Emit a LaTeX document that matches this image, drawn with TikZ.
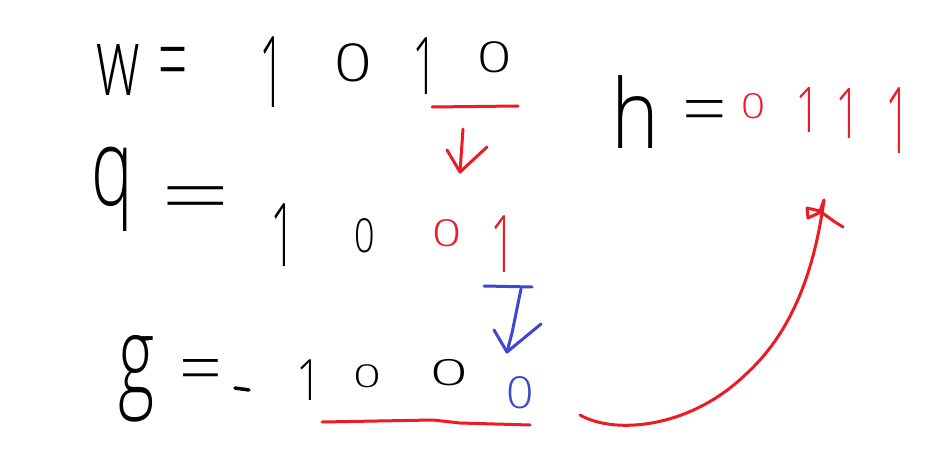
\documentclass[tikz,border=0pt]{standalone}
\usepackage{fontspec}
\setmainfont{Open Sans Light}
\usepackage{graphicx}
\definecolor{pred}{RGB}{237,28,36}
\definecolor{pblue}{RGB}{63,72,204}
\newcommand\hw[3]{\scalebox{#1}[#2]{#3}}
\begin{document}
\begin{tikzpicture}[x=1pt,y=-1pt,
  gl/.style={inner sep=0pt, font=\fontsize{30}{36}\selectfont},
  rgl/.style={gl, text=pred},
  bgl/.style={gl, text=pblue},
  stroke/.style={line width=3.5pt, line cap=round, line join=round},
  rstroke/.style={stroke, draw=pred, line width=3pt},
  bstroke/.style={stroke, draw=pblue, line width=3pt}]
\fill[white] (0,0) rectangle (952,457);
\useasboundingbox (0,0) rectangle (952,457);
% row 1
\node[gl] (w) at (118,70) {\hw{2.0}{3.2}{w}};
\node[gl] (weq) at (173,71) {\hw{1.7}{3.4}{=}};
\node[gl] (w1) at (272,72) {\hw{1.5}{3.3}{1}};
\node[gl] (w2) at (353,63) {\hw{2.2}{1.74}{0}};
\node[gl] (w3) at (425,66) {\hw{1.5}{2.65}{1}};
\node[gl] (w4) at (495,57) {\hw{2.0}{1.42}{0}};
% row 2
\node[gl] (q) at (112,189) {\hw{2.33}{3.6}{q}};
\node[gl] (qeq) at (196,205) {\hw{4.0}{2.6}{=}};
\node[gl] (q1) at (283,235) {\hw{1.5}{2.93}{1}};
\node[gl] (q2) at (365,236) {\hw{1.2}{1.56}{0}};
\node[rgl] (q3) at (447,233) {\hw{1.7}{1.24}{0}};
\node[rgl] (q4) at (503,244) {\hw{1.5}{2.65}{1}};
% row 3
\node[gl] (g) at (137,379) {\hw{2.3}{3.7}{g}};
\node[gl] (geq) at (201,376) {\hw{2.5}{2.4}{=}};
\node[gl] (g1) at (309,380) {\hw{1.5}{1.9}{1}};
\node[gl] (g2) at (367,376) {\hw{1.6}{1.05}{0}};
\node[gl] (g3) at (449,373) {\hw{2.2}{1.2}{0}};
\node[bgl] (g4) at (520,393) {\hw{1.6}{1.47}{0}};
% right
\node[gl] (h) at (635,112) {\hw{2.7}{3.2}{h}};
\node[gl] (heq) at (705,118) {\hw{2.6}{2.4}{=}};
\node[rgl] (h1) at (753,106) {\hw{1.4}{1.15}{0}};
\node[rgl] (h2) at (808,110) {\hw{1.5}{2.1}{1}};
\node[rgl] (h3) at (848,114) {\hw{1.5}{2.33}{1}};
\node[rgl] (h4) at (898,121) {\hw{1.5}{3.07}{1}};
% stray dash after g =
\coordinate (d1) at (235,388);
\coordinate (d2) at (249,390);
\draw[stroke] (d1) -- (d2);
% red underline + arrow (row 1 -> row 2)
\coordinate (ru1) at (432,107);
\coordinate (ru2) at (518,106);
\draw[rstroke] (ru1) -- (ru2);
\coordinate (ra0) at (463,129);
\coordinate (ra1) at (460,172);
\coordinate (raL) at (447,150);
\coordinate (raR) at (487,147);
\draw[rstroke] (ra0) -- (ra1);
\draw[rstroke] (raL) -- (ra1) -- (raR);
% blue underline + arrow (row 2 -> row 3)
\coordinate (bu1) at (484,286);
\coordinate (bu2) at (532,287);
\draw[bstroke] (bu1) -- (bu2);
\coordinate (ba0) at (521,289);
\coordinate (ba1) at (507,352);
\coordinate (baL) at (494,330);
\coordinate (baR) at (541,324);
\draw[bstroke] (ba0) -- (512,333) -- (ba1);
\draw[bstroke] (baL) -- (ba1) -- (baR);
% red underline row 3
\coordinate (gu1) at (322,422);
\coordinate (gu2) at (530,425);
\draw[rstroke] (gu1) -- (433,420) -- (460,423) -- (gu2);
% curved arrow to h
\coordinate (cs) at (580,415);
\coordinate (ce) at (824,200);
\draw[rstroke] (cs) .. controls (615,435) and (690,428) .. (745,375)
  .. controls (795,330) and (815,265) .. (ce);
\draw[rstroke] (ce) -- (820,211) -- (807,208) -- (808,218) -- (821,212) -- (835,222) -- (843,227);
\end{tikzpicture}
\end{document}
